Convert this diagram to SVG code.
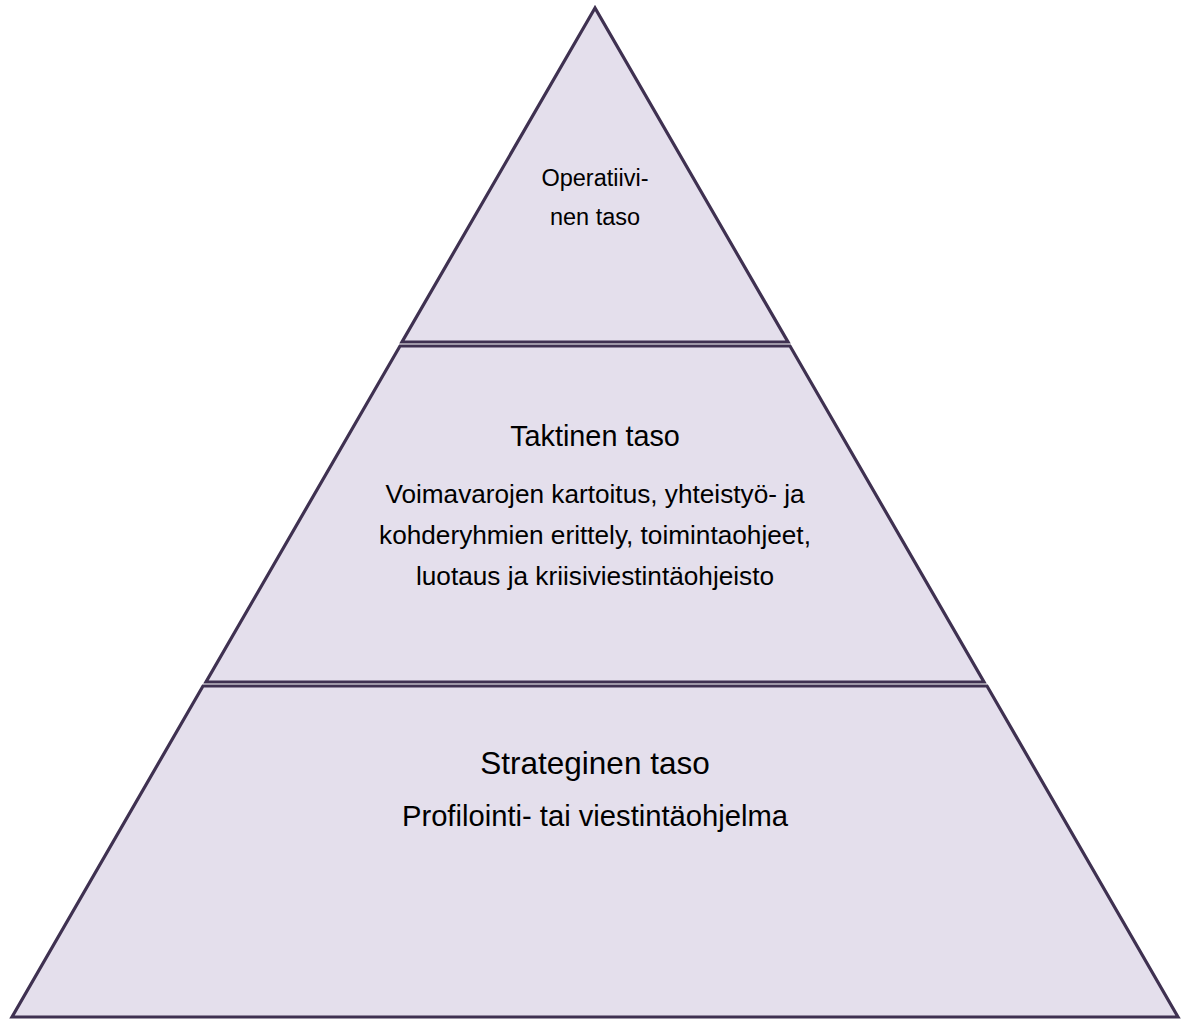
<svg xmlns="http://www.w3.org/2000/svg" width="1189" height="1020" viewBox="0 0 1189 1020">
<style>
.lvl{fill:#E4DFEC;stroke:#3F3151;stroke-width:3.2;stroke-linejoin:miter}
text{font-family:"Liberation Sans",Arial,sans-serif;fill:#000;text-anchor:middle}
</style>
<rect width="1189" height="1020" fill="#fff"/>
<g id="operatiivinen">
<polygon class="lvl" points="595,8 402,342 788,342"/>
<text x="595" y="186" font-size="23.5">Operatiivi-</text>
<text x="595" y="225" font-size="23.5">nen taso</text>
</g>
<g id="taktinen">
<polygon class="lvl" points="400,346 790,346 984,682 206,682"/>
<text x="595" y="446" font-size="28.8">Taktinen taso</text>
<text x="595" y="503" font-size="26.2">Voimavarojen kartoitus, yhteistyö- ja</text>
<text x="595" y="544" font-size="26.2">kohderyhmien erittely, toimintaohjeet,</text>
<text x="595" y="585" font-size="26.2">luotaus ja kriisiviestintäohjeisto</text>
</g>
<g id="strateginen">
<polygon class="lvl" points="203,686 987,686 1178,1017 12,1017"/>
<text x="595" y="774" font-size="31.5">Strateginen taso</text>
<text x="595" y="826" font-size="29.2">Profilointi- tai viestintäohjelma</text>
</g>
<g id="connectors"/>
</svg>
